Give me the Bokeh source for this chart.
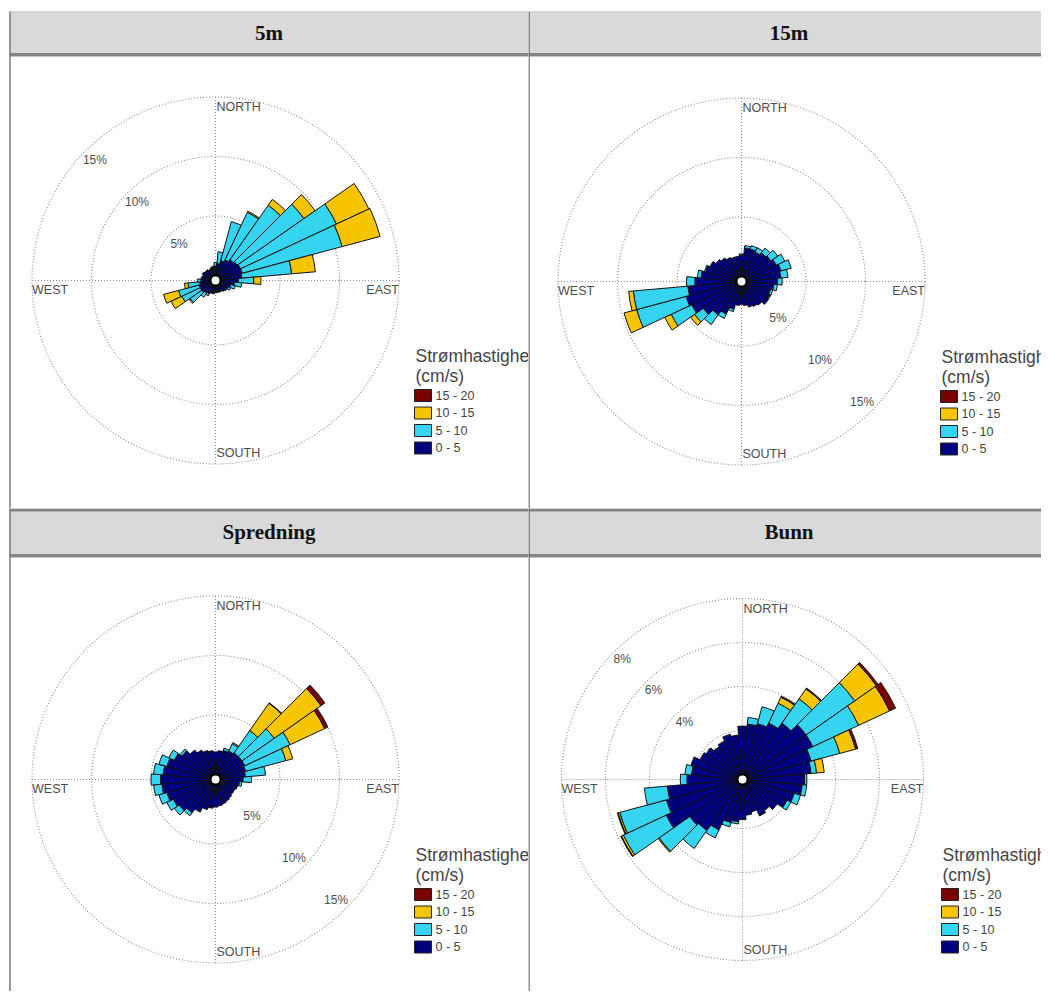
import math
from bokeh.plotting import figure
from bokeh.layouts import gridplot
from bokeh.models import Range1d, ColumnDataSource
from bokeh.core.properties import value
from bokeh.embed import file_html
from bokeh.resources import INLINE

# ---------------- data ----------------
DIRECTIONS = list(range(0, 360, 10))          # compass bin centres (deg)
SPEED_LABELS = ["0 - 5", "5 - 10", "10 - 15", "15 - 20"]
SPEED_COLORS = ["#00007F", "#35D5F2", "#F6C500", "#7A0000"]
LEGEND_TITLE = ["Strømhastighet", "(cm/s)"]
PANEL_TITLES = ["5m", "15m", "Spredning", "Bunn"]
CARDINALS = ["NORTH", "EAST", "SOUTH", "WEST"]

RINGS_PCT = [5, 10, 15]
RINGS_BUNN = [2, 4, 6, 8]

# 5m  (percent of time per direction bin and speed class)
m5_0_5 = [0.8, 1.0, 1.3, 1.5, 1.7, 1.8, 1.9, 1.9, 1.8, 1.5, 1.2, 0.9, 0.8, 0.7, 0.7, 0.6, 0.6, 0.6,
          0.6, 0.7, 0.7, 0.8, 0.9, 1.0, 1.0, 1.0, 0.9, 0.8, 0.7, 0.7, 0.8, 0.7, 0.7, 0.6, 0.7, 0.8]
m5_5_10 = [0.3, 1.0, 3.4, 4.4, 5.6, 6.85, 8.9, 8.7, 4.2, 1.3, 0.6, 0.4, 0.2, 0.1, 0, 0, 0, 0,
           0, 0, 0, 0.2, 0.4, 1.2, 1.7, 1.8, 1.0, 0.3, 0.1, 0, 0, 0, 0, 0, 0, 0]
m5_10_15 = [0, 0, 0, 0.1, 0.6, 1.15, 3.0, 3.3, 2.0, 0.6, 0, 0, 0, 0, 0, 0, 0, 0,
            0, 0, 0, 0, 0, 0.1, 1.0, 1.3, 0.3, 0, 0, 0, 0, 0, 0, 0, 0, 0]
m5_15_20 = [0] * 36

# 15m
m15_0_5 = [1.8, 2.4, 2.4, 2.3, 2.5, 2.6, 2.8, 3.0, 2.9, 2.6, 2.3, 2.1, 2.2, 2.3, 2.0, 1.9, 1.8, 1.6,
           1.5, 1.6, 2.0, 2.6, 3.0, 3.5, 4.2, 4.4, 4.1, 3.5, 3.0, 2.7, 2.5, 2.2, 2.0, 1.8, 1.7, 1.7]
m15_5_10 = [0.1, 0.2, 0.3, 0.4, 0.5, 0.7, 0.8, 0.9, 0.6, 0.4, 0.3, 0.2, 0.1, 0, 0, 0, 0, 0,
            0, 0, 0.2, 0.4, 1.0, 0.9, 1.9, 4.3, 4.6, 0.7, 0.3, 0.1, 0, 0, 0, 0, 0, 0]
m15_10_15 = [0, 0, 0, 0, 0, 0, 0, 0, 0, 0, 0, 0, 0, 0, 0, 0, 0, 0,
             0, 0, 0, 0, 0, 0.4, 0.6, 1.1, 0.4, 0, 0, 0, 0, 0, 0, 0, 0, 0]
m15_15_20 = [0] * 36

# Spredning
sp_0_5 = [1.9, 2.0, 2.1, 2.2, 2.3, 2.3, 2.3, 2.2, 2.1, 1.9, 1.6, 1.5, 1.4, 1.4, 1.5, 1.6, 1.7, 1.8,
          1.9, 2.0, 2.2, 2.6, 3.0, 3.3, 3.5, 3.8, 4.1, 4.2, 4.0, 3.8, 3.4, 3.0, 2.6, 2.3, 2.1, 2.0]
sp_5_10 = [0, 0, 0.2, 0.7, 2.3, 3.3, 4.2, 3.5, 1.7, 0.7, 0.2, 0, 0, 0, 0, 0, 0, 0,
           0, 0, 0, 0, 0.3, 0.5, 0.6, 0.7, 0.7, 0.8, 0.8, 0.7, 0.5, 0.2, 0, 0, 0, 0]
sp_10_15 = [0, 0, 0, 0.1, 2.8, 4.8, 3.2, 0.6, 0, 0, 0, 0, 0, 0, 0, 0, 0, 0,
            0, 0, 0, 0, 0, 0, 0, 0, 0, 0, 0, 0, 0, 0, 0, 0, 0, 0]
sp_15_20 = [0, 0, 0, 0, 0.05, 0.4, 0.3, 0, 0, 0, 0, 0, 0, 0, 0, 0, 0, 0,
            0, 0, 0, 0, 0, 0, 0, 0, 0, 0, 0, 0, 0, 0, 0, 0, 0, 0]

# Bunn
bu_0_5 = [2.2, 2.3, 2.4, 2.6, 2.9, 3.3, 3.3, 3.0, 2.9, 2.6, 2.5, 2.2, 2.0, 1.7, 1.5, 1.6, 1.3, 1.4,
          1.6, 1.7, 1.8, 2.3, 2.6, 2.7, 3.6, 3.35, 3.2, 2.3, 2.1, 2.2, 1.9, 1.8, 1.6, 1.7, 1.9, 1.8]
bu_5_10 = [0, 0.3, 0.8, 1.0, 1.35, 2.7, 2.3, 1.35, 0.25, 0.1, 0.2, 0.3, 0.2, 0, 0, 0, 0, 0,
           0, 0.1, 0.2, 0.4, 1.0, 1.7, 2.15, 2.2, 1.05, 0.3, 0.3, 0, 0, 0, 0, 0, 0, 0]
bu_10_15 = [0, 0, 0, 0.3, 0.55, 1.2, 1.55, 0.75, 0.35, 0, 0, 0, 0, 0, 0, 0, 0, 0,
            0, 0, 0, 0, 0, 0.05, 0.1, 0.08, 0, 0, 0, 0, 0, 0, 0, 0, 0, 0]
bu_15_20 = [0, 0, 0, 0.05, 0.05, 0.1, 0.3, 0.1, 0, 0, 0, 0, 0, 0, 0, 0, 0, 0,
            0, 0, 0, 0, 0, 0, 0.03, 0.03, 0, 0, 0, 0, 0, 0, 0, 0, 0, 0]

PANEL_SERIES = [
    [m5_0_5, m5_5_10, m5_10_15, m5_15_20],
    [m15_0_5, m15_5_10, m15_10_15, m15_15_20],
    [sp_0_5, sp_5_10, sp_10_15, sp_15_20],
    [bu_0_5, bu_5_10, bu_10_15, bu_15_20],
]
PANEL_RINGS = [RINGS_PCT, RINGS_PCT, RINGS_PCT, RINGS_BUNN]

# ---------------- layout / style ----------------
HOLE_PX = 5.0
GRID_COLOR = "#8c8c8c"
LABEL_COLOR = "#4d4d4d"
SANS = value("Liberation Sans")


def make_panel(idx, w, h, top_row, left_col, cx, cy, px_per_pct, ring_label_dir, ring_inset):
    p = figure(width=w, height=h, x_range=Range1d(0, w), y_range=Range1d(h, 0),
               min_border=0, toolbar_location=None, output_backend="svg",
               x_axis_location=None, y_axis_location=None)
    p.grid.visible = False
    p.outline_line_color = None
    p.background_fill_color = "white"
    p.border_fill_color = "white"

    k = px_per_pct
    p.extra_x_ranges = {"rose": Range1d(-cx / k, (w - cx) / k)}
    p.extra_y_ranges = {"rose": Range1d(-(h - cy) / k, cy / k)}
    rr = dict(x_range_name="rose", y_range_name="rose")

    # ----- table header -----
    if top_row:
        htop, hbot = 11, 55
    else:
        htop, hbot = 0, 48
    xl = 9 if left_col else 0
    p.quad(left=[xl], right=[w], top=[htop], bottom=[hbot], fill_color="#D9D9D9", line_color=None)
    if top_row:
        p.segment(x0=[xl], y0=[htop + 0.5], x1=[w], y1=[htop + 0.5], line_color="#cfcfcf", line_width=1)
    else:
        p.segment(x0=[xl], y0=[1.5], x1=[w], y1=[1.5], line_color="#858585", line_width=3)
    p.segment(x0=[xl], y0=[hbot - 1], x1=[w], y1=[hbot - 1], line_color="#858585", line_width=3)
    p.segment(x0=[xl], y0=[hbot + 1], x1=[w], y1=[hbot + 1], line_color="#c8c8c8", line_width=1)
    if left_col:
        p.segment(x0=[xl + 0.5], y0=[htop], x1=[xl + 0.5], y1=[h], line_color="#7a7a7a", line_width=1.5)
    else:
        p.segment(x0=[0.5], y0=[htop], x1=[0.5], y1=[h], line_color="#4a4a4a", line_width=1.2)
    p.text(x=[(xl + w) / 2 if left_col else 260.5], y=[(htop + hbot) / 2 - 1], text=[PANEL_TITLES[idx]],
           text_font=value("Liberation Serif"), text_font_style="bold", text_font_size="21px",
           text_align="center", text_baseline="middle", text_color="#111111")

    # ----- polar grid -----
    rings = PANEL_RINGS[idx]
    off = HOLE_PX / k
    R = rings[-1] + off
    p.circle(x=[0] * len(rings), y=[0] * len(rings), radius=[r + off for r in rings],
             fill_color=None, line_color=GRID_COLOR, line_dash="1 2", line_width=1.1, **rr)
    p.segment(x0=[-R, 0], y0=[0, -R], x1=[R, 0], y1=[0, R],
              line_color=GRID_COLOR, line_dash="1 2", line_width=1.1, **rr)

    dx, dy = ring_label_dir
    lab_r = [r + off - ring_inset / k for r in rings]
    p.text(x=[dx * q for q in lab_r], y=[dy * q for q in lab_r], text=[f"{r}%" for r in rings],
           text_font=SANS, text_font_size="12px", text_align="center", text_baseline="middle",
           text_color=LABEL_COLOR, **rr)

    # ----- stacked wedges -----
    series = PANEL_SERIES[idx]
    cols = dict(inner=[], outer=[], start=[], end=[], color=[])
    for i, d in enumerate(DIRECTIONS):
        cum = 0.0
        for j, s in enumerate(series):
            v = s[i]
            if v > 0:
                cols["inner"].append(off + cum)
                cols["outer"].append(off + cum + v)
                cols["start"].append(math.radians(90 - d - 5))
                cols["end"].append(math.radians(90 - d + 5))
                cols["color"].append(SPEED_COLORS[j])
            cum += v
    n = len(cols["inner"])
    cols["x"] = [0] * n
    cols["y"] = [0] * n
    src = ColumnDataSource(cols)
    p.annular_wedge(x="x", y="y", inner_radius="inner", outer_radius="outer",
                    start_angle="start", end_angle="end", fill_color="color",
                    line_color="#111111", line_width=1, source=src, **rr)

    # centre hole
    p.circle(x=[0], y=[0], radius=[off * 1.05], fill_color="white", line_color="black",
             line_width=2.5, **rr)

    # ----- cardinal labels -----
    p.text(x=[1 / k, R, 1 / k, -R],
           y=[R - 10 / k, -9 / k, -(R - 11 / k), -9 / k],
           text=CARDINALS, text_align=["left", "right", "left", "left"],
           text_baseline="middle", text_font=SANS, text_font_size="12.5px",
           text_color=LABEL_COLOR, **rr)

    # ----- legend -----
    lx = cx + 200
    p.text(x=[lx, lx], y=[cy + 75, cy + 95], text=LEGEND_TITLE, text_font=SANS,
           text_font_size="17.5px", text_align="left", text_baseline="middle", text_color="#444444")
    order = list(range(len(SPEED_LABELS)))[::-1]
    ys = [cy + 115 + 17.5 * m for m in range(len(order))]
    p.quad(left=[lx - 1] * len(order), right=[lx + 16] * len(order),
           top=[y - 6 for y in ys], bottom=[y + 6 for y in ys],
           fill_color=[SPEED_COLORS[j] for j in order], line_color="#222222", line_width=1)
    p.text(x=[lx + 20] * len(order), y=ys, text=[SPEED_LABELS[j] for j in order], text_font=SANS,
           text_font_size="12.5px", text_align="left", text_baseline="middle", text_color="#444444")
    return p


UL = (-0.7071, 0.7071)
LR = (0.7071, -0.7071)
pa = make_panel(0, 528, 508, True, True, 215, 280, 11.9, UL, 13)
pb = make_panel(1, 513, 508, True, False, 213, 281, 11.9, LR, 13)
pc = make_panel(2, 528, 483, False, True, 215, 271, 11.9, LR, 13)
pd = make_panel(3, 513, 483, False, False, 214, 271, 22.0, UL, 11)

grid = gridplot([[pa, pb], [pc, pd]], toolbar_location=None)

open("out.html", "w").write(file_html(grid, INLINE))
